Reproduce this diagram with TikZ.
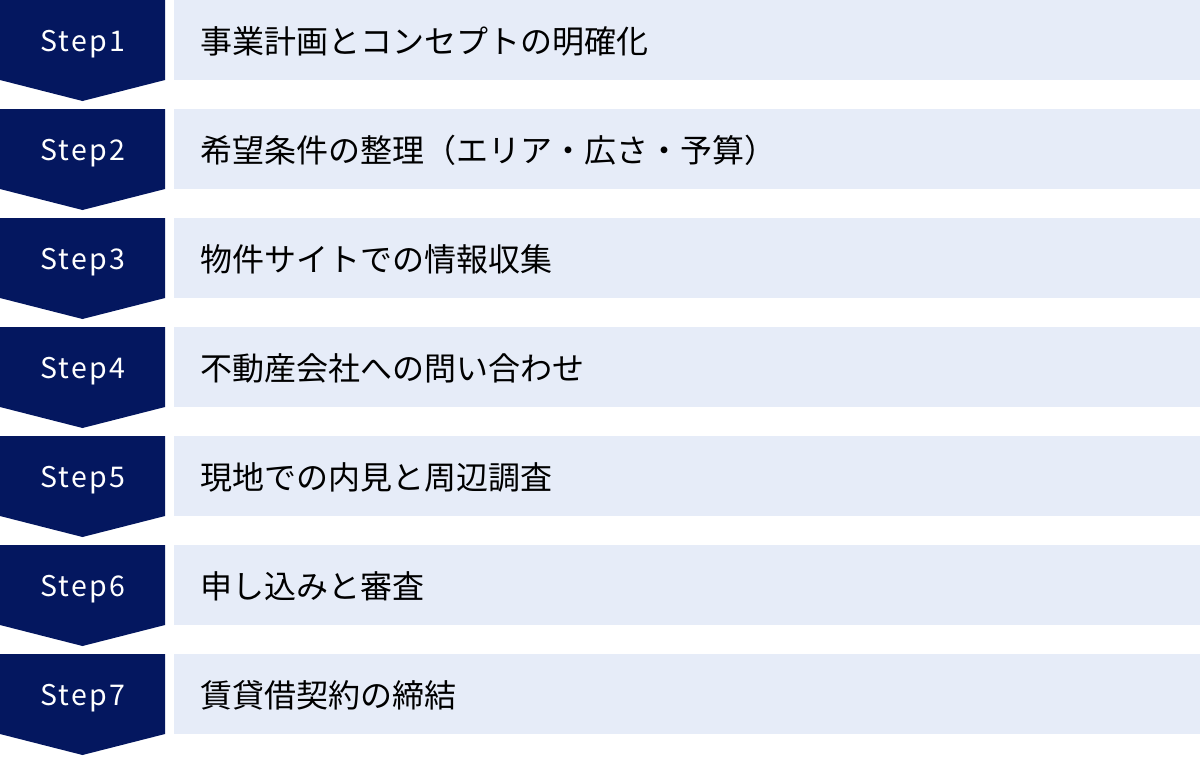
\documentclass[tikz,border=0pt]{standalone}
\usepackage{fontspec}
\setmainfont{Noto Sans CJK JP}
\newfontfamily\stepfont[LetterSpace=8]{Noto Sans CJK JP}
\usetikzlibrary{positioning}

\definecolor{stepnavy}{HTML}{04175F}
\definecolor{steplight}{HTML}{E6ECF8}

\tikzset{
  stepbadge/.style={fill=stepnavy},
  stepbar/.style={fill=steplight},
  steplabel/.style={text=white, inner sep=0pt, font=\stepfont\fontsize{28.5}{32}\selectfont},
  steptext/.style={anchor=west, inner sep=0pt, font=\fontsize{32}{38}\selectfont}
}

\begin{document}
\begin{tikzpicture}[x=1pt,y=-1pt]
  \useasboundingbox (0,0) rectangle (1200,756);

  \foreach \i/\txt in {1/事業計画とコンセプトの明確化,
                       2/希望条件の整理（エリア・広さ・予算）,
                       3/物件サイトでの情報収集,
                       4/不動産会社への問い合わせ,
                       5/現地での内見と周辺調査,
                       6/申し込みと審査,
                       7/賃貸借契約の締結}
  { \pgfmathsetmacro{\ytop}{(\i-1)*109}
    \fill[stepbadge] (0,\ytop) -- (165,\ytop) -- (165,\ytop+80)
      -- (82.5,\ytop+101) -- (0,\ytop+80) -- cycle;
    \fill[stepbar] (174,\ytop) rectangle (1200,\ytop+80);
    \node[steplabel] (step\i) at (82.5,\ytop+44.5) {Step\i};
    \node[steptext] (task\i) at (200,\ytop+41) {\txt}; }
\end{tikzpicture}
\end{document}
